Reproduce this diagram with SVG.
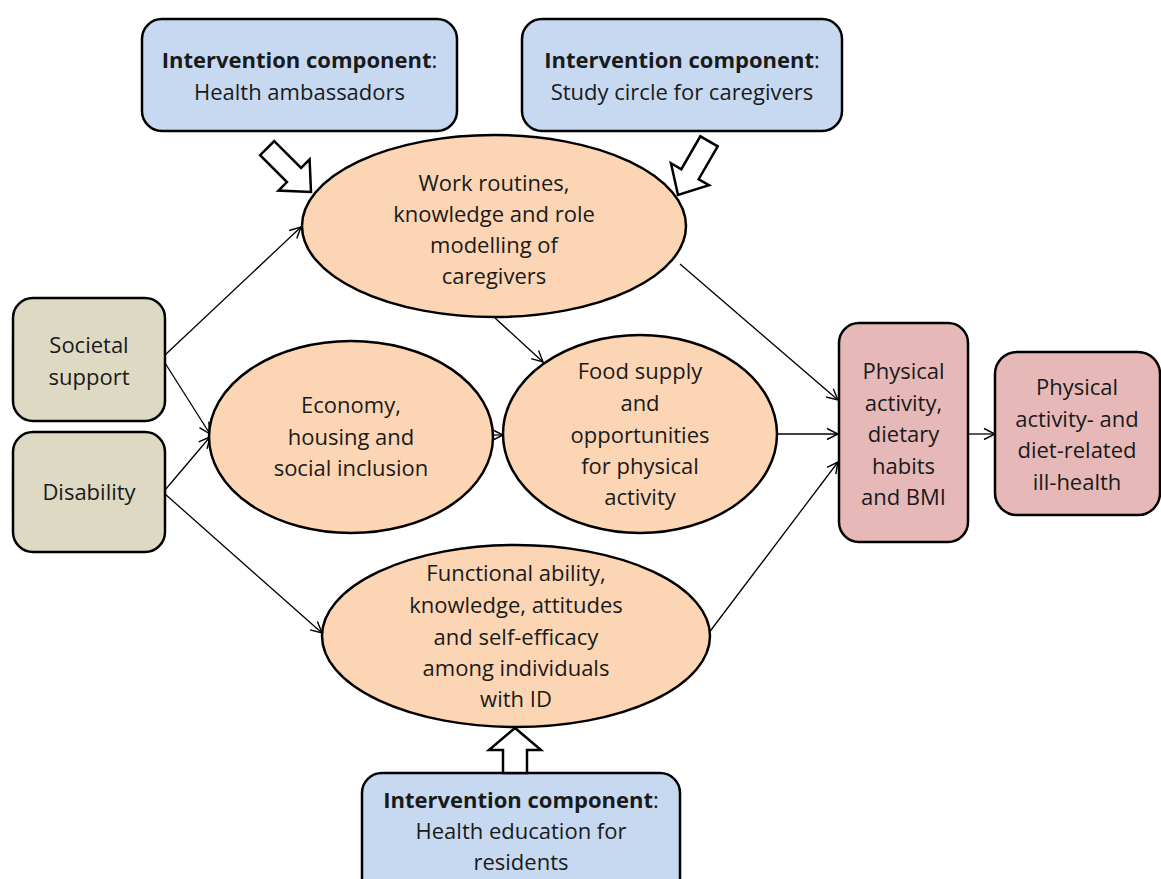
<svg xmlns="http://www.w3.org/2000/svg" width="1161" height="879" viewBox="0 0 1161 879">
<style>
text{font-family:"Open Sans","Noto Sans","Liberation Sans",sans-serif;font-size:22px;fill:#1a1a1a;text-anchor:middle}
.b{font-weight:bold}
.blue{fill:#c6d9f1;stroke:#000;stroke-width:2.5}
.beige{fill:#ddd9c3;stroke:#000;stroke-width:2.5}
.orange{fill:#fcd5b5;stroke:#000;stroke-width:2.5}
.pink{fill:#e6b9b8;stroke:#000;stroke-width:2.5}
.blk{fill:#fff;stroke:#000;stroke-width:2.5;stroke-linejoin:miter}
.con line{stroke:#000;stroke-width:1.3;marker-end:url(#ah)}
</style>
<defs>
<marker id="ah" markerUnits="userSpaceOnUse" markerWidth="14" markerHeight="14" viewBox="0 0 14 14" refX="13" refY="7" orient="auto">
<path d="M2,1.5 L13,7 L2,12.5" fill="none" stroke="#000" stroke-width="1.4"/>
</marker>
</defs>
<rect width="1161" height="879" fill="#fff"/>
<g class="con">
<line x1="165" y1="355" x2="301" y2="227"/>
<line x1="165" y1="363" x2="210" y2="434"/>
<line x1="165" y1="490" x2="210" y2="437"/>
<line x1="165" y1="494" x2="322" y2="633"/>
<line x1="495" y1="318" x2="543" y2="362"/>
<line x1="493" y1="435" x2="503" y2="435"/>
<line x1="680" y1="264" x2="838" y2="400"/>
<line x1="777" y1="434" x2="838" y2="434"/>
<line x1="708" y1="634" x2="838" y2="462"/>
<line x1="968" y1="434" x2="995" y2="434"/>
</g>
<g id="ic-ambassadors">
<rect class="blue" x="142" y="19" width="315" height="112" rx="20"/>
<text x="299.5" y="68"><tspan class="b">Intervention component</tspan>:</text>
<text x="299.5" y="100">Health ambassadors</text>
</g>
<g id="ic-studycircle">
<rect class="blue" x="522" y="19" width="320" height="112" rx="20"/>
<text x="682" y="68"><tspan class="b">Intervention component</tspan>:</text>
<text x="682" y="100">Study circle for caregivers</text>
</g>
<g id="work-routines">
<ellipse class="orange" cx="494" cy="226" rx="192" ry="91"/>
<text x="494" y="191">Work routines,</text>
<text x="494" y="222">knowledge and role</text>
<text x="494" y="253">modelling of</text>
<text x="494" y="284">caregivers</text>
</g>
<g id="societal-support">
<rect class="beige" x="13" y="298" width="152" height="123" rx="20"/>
<text x="89" y="353">Societal</text>
<text x="89" y="385">support</text>
</g>
<g id="disability">
<rect class="beige" x="13" y="432" width="152" height="120" rx="20"/>
<text x="89" y="500">Disability</text>
</g>
<g id="economy">
<ellipse class="orange" cx="351" cy="437" rx="142" ry="96"/>
<text x="351" y="413">Economy,</text>
<text x="351" y="445">housing and</text>
<text x="351" y="476">social inclusion</text>
</g>
<g id="food-supply">
<ellipse class="orange" cx="640" cy="434" rx="137" ry="99"/>
<text x="640" y="379">Food supply</text>
<text x="640" y="411">and</text>
<text x="640" y="443">opportunities</text>
<text x="640" y="474">for physical</text>
<text x="640" y="505">activity</text>
</g>
<g id="functional-ability">
<ellipse class="orange" cx="516" cy="636" rx="194" ry="91"/>
<text x="516" y="581">Functional ability,</text>
<text x="516" y="613">knowledge, attitudes</text>
<text x="516" y="645">and self-efficacy</text>
<text x="516" y="676">among individuals</text>
<text x="516" y="707">with ID</text>
</g>
<g id="pa-diet-bmi">
<rect class="pink" x="839" y="323" width="129" height="219" rx="20"/>
<text x="903.5" y="379">Physical</text>
<text x="903.5" y="411">activity,</text>
<text x="903.5" y="442">dietary</text>
<text x="903.5" y="474">habits</text>
<text x="903.5" y="505">and BMI</text>
</g>
<g id="ill-health">
<rect class="pink" x="995" y="352" width="165" height="163" rx="22"/>
<text x="1077" y="395">Physical</text>
<text x="1077" y="427">activity- and</text>
<text x="1077" y="458">diet-related</text>
<text x="1077" y="490">ill-health</text>
</g>
<g id="ic-health-education">
<rect class="blue" x="362" y="773" width="318" height="130" rx="20"/>
<text x="521" y="808"><tspan class="b">Intervention component</tspan>:</text>
<text x="521" y="839">Health education for</text>
<text x="521" y="870">residents</text>
</g>
<g id="block-arrows">
<polygon class="blk" transform="translate(311,192) rotate(45)" points="-62,-10 -24,-10 -24,-22 0,0 -24,22 -24,10 -62,10"/>
<polygon class="blk" transform="translate(678,195) rotate(120)" points="-62,-10 -24,-10 -24,-22 0,0 -24,22 -24,10 -62,10"/>
<polygon class="blk" points="503,773 503,750 489,750 515,728 541,750 527,750 527,773"/>
</g>
</svg>
